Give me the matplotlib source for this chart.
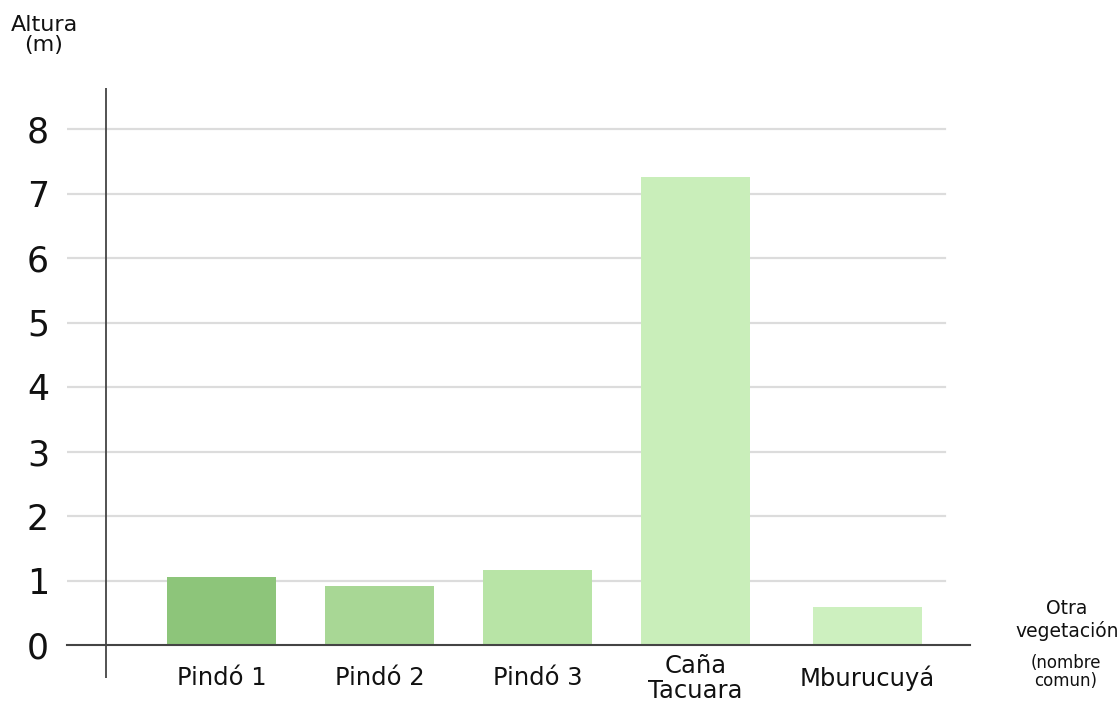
import matplotlib
matplotlib.use("Agg")
import matplotlib.pyplot as plt

categories = ["Pindó 1", "Pindó 2", "Pindó 3", "Caña\nTacuara", "Mburucuyá"]
heights = [1.05, 0.91, 1.16, 7.26, 0.59]
yticks = [0, 1, 2, 3, 4, 5, 6, 7, 8]

positions = [0, 1, 2, 3, 4.09]
colors = ["#8dc57a", "#a8d795", "#b8e4a6", "#c9eeba", "#cdf0bf"]

W, H = 1118, 706
fig = plt.figure(figsize=(W / 100, H / 100), dpi=100)
ax_l, ax_r, ax_t, ax_b = 67, 970, 88, 678
ax = fig.add_axes([ax_l / W, 1 - ax_b / H, (ax_r - ax_l) / W, (ax_b - ax_t) / H])

px_unit_x = 158.0
x0_px = 221.5
ax.set_xlim((ax_l - x0_px) / px_unit_x, (ax_r - x0_px) / px_unit_x)
y_unit = 64.5
y0_px = 645
ax.set_ylim(-(ax_b - y0_px) / y_unit, (y0_px - ax_t) / y_unit)

grid_end = (945 - ax_l) / (ax_r - ax_l)
for t in yticks[1:]:
    ax.axhline(t, xmin=0, xmax=grid_end, color="#dcdcdc", lw=1.6, zorder=0)

ax.bar(positions, heights, width=0.69, color=colors, zorder=2)

for s in ["top", "right", "left"]:
    ax.spines[s].set_visible(False)
ax.spines["bottom"].set_position(("data", 0))
ax.spines["bottom"].set_color("#444444")
ax.spines["bottom"].set_linewidth(1.5)
ax.spines["bottom"].set_zorder(3)

ax.axvline((106 - x0_px) / px_unit_x, color="#444444", lw=1.3, zorder=3)

ax.set_yticks(yticks)
ax.set_yticklabels([str(t) for t in yticks], fontsize=25, color="#111111")
ax.tick_params(axis="y", length=0, pad=13)

ax.set_xticks(positions)
ax.set_xticklabels(categories, fontsize=17.5, color="#111111", linespacing=1.05)
ax.tick_params(axis="x", length=0, pad=24)
for lbl in ax.get_xticklabels():
    lbl.set_va("center")

fig.text(44 / W, 1 - 35 / H, "Altura\n(m)", ha="center", va="center",
         fontsize=16, color="#111111", linespacing=0.95)
fig.text(1067 / W, 1 - 620 / H, "Otra\nvegetación", ha="center", va="center",
         fontsize=13.5, color="#111111", linespacing=1.2)
fig.text(1066 / W, 1 - 672 / H, "(nombre\ncomun)", ha="center", va="center",
         fontsize=12, color="#111111", linespacing=0.95)

fig.savefig("out.png", dpi=100, facecolor="white")
